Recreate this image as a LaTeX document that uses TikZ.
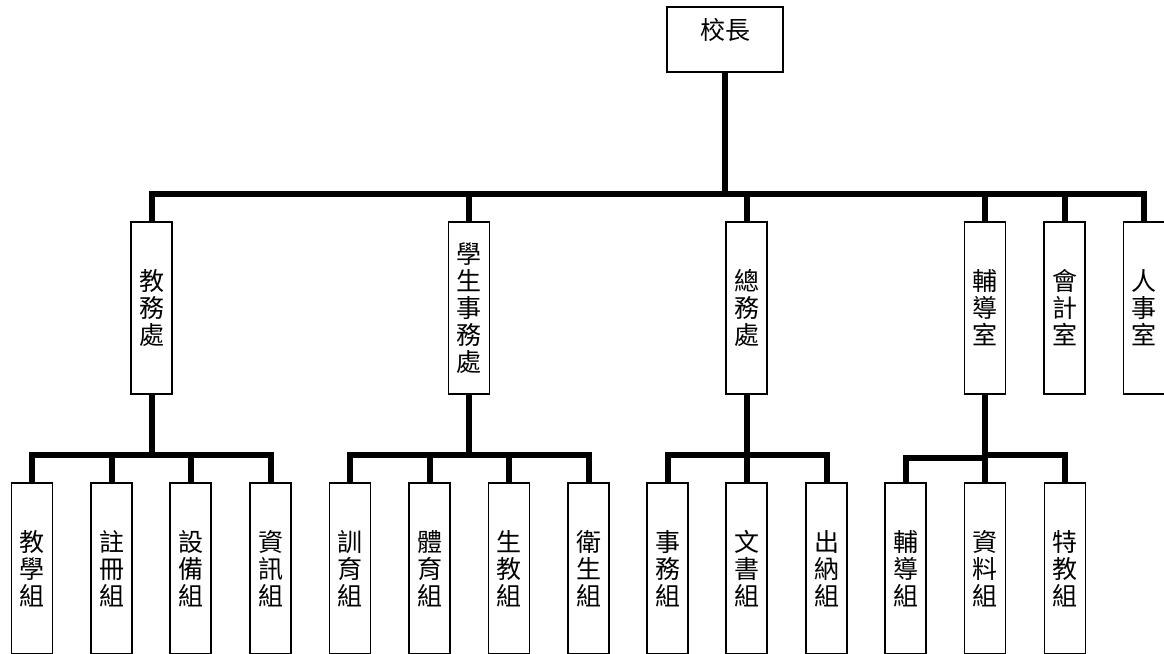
\documentclass[tikz,border=0pt]{standalone}
\usepackage{fontspec}
\newfontfamily\cjk{Noto Sans CJK TC}
\tikzset{
  headbox/.style={draw,line width=1.6pt,inner sep=0pt,minimum width=116pt,text height=32pt,text depth=33pt},
  unitbox/.style={draw,line width=1.6pt,inner sep=0pt,minimum width=41pt,minimum height=172pt,align=center},
  groupbox/.style={draw,line width=1.6pt,inner sep=0pt,minimum width=41pt,minimum height=171pt,align=center},
  link/.style={line width=6pt}
}

\begin{document}
\begin{tikzpicture}[x=1pt,y=-1pt,font=\cjk\fontsize{25}{27}\selectfont]
                \useasboundingbox (0,0) rectangle (1164,653);
                \coordinate (lv1) at (725,194);
                \coordinate (lv2) at (0,455);
                \coordinate (lv2b) at (0,458);
                \node[headbox] (xz) at (725,39.5) {校長};
                \node[unitbox] (jw) at (151.5,308) {教\\務\\處};
                \node[unitbox] (xw) at (469,308) {學\\生\\事\\務\\處};
                \node[unitbox] (zw) at (746.5,308) {總\\務\\處};
                \node[unitbox] (fd) at (985,308) {輔\\導\\室};
                \node[unitbox] (kj) at (1064.5,308) {會\\計\\室};
                \node[unitbox] (rs) at (1144,308) {人\\事\\室};
                \node[groupbox] (jx) at (32,568.5) {教\\學\\組};
                \node[groupbox] (zc) at (111.5,568.5) {註\\冊\\組};
                \node[groupbox] (sb) at (190.5,568.5) {設\\備\\組};
                \node[groupbox] (zx) at (270.5,568.5) {資\\訊\\組};
                \node[groupbox] (xy) at (350,568.5) {訓\\育\\組};
                \node[groupbox] (ty) at (429.5,568.5) {體\\育\\組};
                \node[groupbox] (sj) at (509,568.5) {生\\教\\組};
                \node[groupbox] (wsz) at (588.5,568.5) {衛\\生\\組};
                \node[groupbox] (sw) at (667.5,568.5) {事\\務\\組};
                \node[groupbox] (wen) at (746.5,568.5) {文\\書\\組};
                \node[groupbox] (cn) at (826.5,568.5) {出\\納\\組};
                \node[groupbox] (fdz) at (905.5,568.5) {輔\\導\\組};
                \node[groupbox] (zl) at (985,568.5) {資\\料\\組};
                \node[groupbox] (tj) at (1065,568.5) {特\\教\\組};
                \draw[link] (xz.south) -- (lv1);
                \draw[link] (jw.north) -- (jw.north |- lv1) -- (rs.north |- lv1) -- (rs.north);
                \draw[link] (xw.north) -- (xw.north |- lv1);
                \draw[link] (zw.north) -- (zw.north |- lv1);
                \draw[link] (fd.north) -- (fd.north |- lv1);
                \draw[link] (kj.north) -- (kj.north |- lv1);
                \draw[link] (jw.south) -- (jw.south |- lv2);
                \draw[link] (jx.north) -- (jx.north |- lv2) -- (zx.north |- lv2) -- (zx.north);
                \draw[link] (zc.north) -- (zc.north |- lv2);
                \draw[link] (sb.north) -- (sb.north |- lv2);
                \draw[link] (xw.south) -- (xw.south |- lv2);
                \draw[link] (xy.north) -- (xy.north |- lv2) -- (wsz.north |- lv2) -- (wsz.north);
                \draw[link] (ty.north) -- (ty.north |- lv2);
                \draw[link] (sj.north) -- (sj.north |- lv2);
                \draw[link] (zw.south) -- (zw.south |- lv2);
                \draw[link] (sw.north) -- (sw.north |- lv2) -- (cn.north |- lv2) -- (cn.north);
                \draw[link] (wen.north) -- (wen.north |- lv2);
                \draw[link] (fd.south) -- (fd.south |- lv2b);
                \draw[link] (fdz.north) -- (fdz.north |- lv2b) -- (fd.south |- lv2b);
                \draw[link] (zl.north) -- (zl.north |- lv2) -- (tj.north |- lv2) -- (tj.north);
            \end{tikzpicture}
\end{document}
